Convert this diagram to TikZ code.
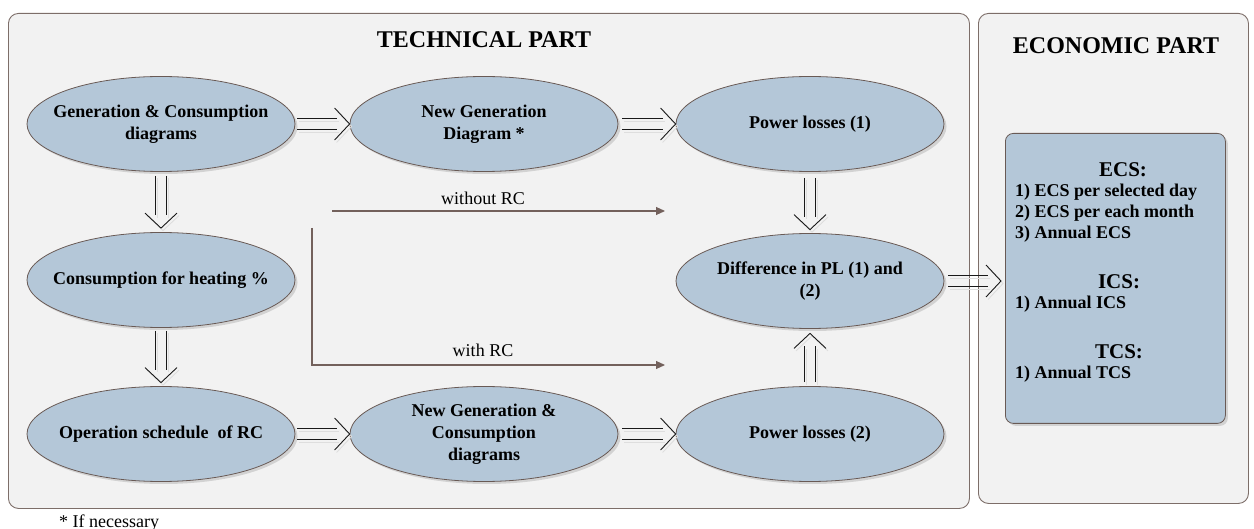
\documentclass[tikz,border=0pt]{standalone}
\usepackage{fontspec}
\setmainfont{Liberation Serif}
\usetikzlibrary{shapes.geometric,arrows.meta,shadows}
\definecolor{panelbg}{RGB}{242,242,242}
\definecolor{frame}{RGB}{125,110,105}
\definecolor{ellfill}{RGB}{180,199,216}
\definecolor{ellline}{RGB}{105,90,85}
\definecolor{thinc}{RGB}{115,97,92}
\definecolor{darkc}{RGB}{25,25,25}
\definecolor{shadc}{RGB}{222,222,222}
% #1 from, #2 tip, #3 start gap, #4 rotation of tip, #5/#6 half offset of the two lines
\newcommand\dblarrow[6]{%
  \draw[shline, transform canvas={shift={(#5+2pt,#6-2.5pt)}}, shorten <=#3, shorten >=13pt] (#1) -- (#2);
  \draw[shline, transform canvas={shift={(-#5+2pt,-#6-2.5pt)}}, shorten <=#3, shorten >=13pt] (#1) -- (#2);
  \draw[dline, transform canvas={shift={(#5,#6)}}, shorten <=#3, shorten >=13pt] (#1) -- (#2);
  \draw[dline, transform canvas={shift={(-#5,-#6)}}, shorten <=#3, shorten >=13pt] (#1) -- (#2);
  \draw[shline, shift={(#2)}, xshift=2pt, yshift=-2.5pt, rotate=#4] (-15pt,16pt) -- (0pt,0pt) -- (-15pt,-16pt);
  \draw[dline, shift={(#2)}, rotate=#4] (-15pt,16pt) -- (0pt,0pt) -- (-15pt,-16pt);
}
\begin{document}
\begin{tikzpicture}[x=1pt,y=-1pt,
  panel/.style={rectangle, draw=frame, fill=panelbg, line width=0.9pt, rounded corners=10pt, anchor=north west, inner sep=0pt},
  ell/.style={ellipse, draw=ellline, line width=0.8pt, fill=ellfill, minimum width=268pt, minimum height=95pt, inner ysep=0pt, inner xsep=-20pt, align=center, font=\fontsize{18}{22}\selectfont\bfseries, drop shadow={shadow xshift=2.5pt, shadow yshift=-2.5pt, fill=black, opacity=0.13}},
  dline/.style={draw=darkc, line width=0.9pt},
  shline/.style={draw=shadc, line width=0.9pt},
  thinarr/.style={draw=thinc, line width=1.1pt, -{Triangle[length=9pt,width=8pt]}},
  lbl/.style={font=\fontsize{18}{22}\selectfont},
  title/.style={font=\fontsize{24}{28}\selectfont\bfseries, anchor=base},
  econtxt/.style={font=\fontsize{18}{22}\selectfont\bfseries, anchor=mid west, inner sep=0pt},
  econhead/.style={font=\fontsize{21}{25}\selectfont\bfseries, inner sep=0pt}
]
\useasboundingbox (0,0) rectangle (1254,529);
% panels
\node[panel, minimum width=961pt, minimum height=495pt] (tech) at (8,13) {};
\node[panel, minimum width=270pt, minimum height=490pt] (econ) at (978,13) {};
\node[title] (techtitle) at (484,48) {TECHNICAL PART};
\node[title] (econtitle) at (1116,54) {ECONOMIC PART};
% ellipses
\node[ell] (gen) at (161,124) {Generation \& Consumption\\diagrams};
\node[ell] (newgen) at (484,124) {New Generation\\Diagram *};
\node[ell] (pl1) at (810,124) {Power losses (1)};
\node[ell] (heat) at (161,280) {Consumption for heating \%};
\node[ell] (diff) at (810,281) {Difference in PL (1) and\\(2)};
\node[ell] (oper) at (161,434) {Operation schedule\ \ of RC};
\node[ell] (newgc) at (484,434) {New Generation \&\\Consumption\\diagrams};
\node[ell] (pl2) at (810,434) {Power losses (2)};
% economic box
\node[rectangle, draw=ellline, line width=0.8pt, fill=ellfill, rounded corners=8pt, minimum width=220pt, minimum height=290pt, anchor=north west, inner sep=0pt, drop shadow={shadow xshift=2.5pt, shadow yshift=-2.5pt, fill=black, opacity=0.13}] (econbox) at (1005,133) {};
\node[econhead] (ecsh) at (1123,170) {ECS:};
\node[econtxt] (ecs1) at (1015,194) {1) ECS per selected day};
\node[econtxt] (ecs2) at (1015,215) {2) ECS per each month};
\node[econtxt] (ecs3) at (1015,236) {3) Annual ECS};
\node[econhead] (icsh) at (1119,282) {ICS:};
\node[econtxt] (ics1) at (1015,306) {1) Annual ICS};
\node[econhead] (tcsh) at (1119,352) {TCS:};
\node[econtxt] (tcs1) at (1015,376) {1) Annual TCS};
% double arrows (horizontal)
\dblarrow{gen.east}{newgen.west}{2pt}{0}{0pt}{5.5pt}
\dblarrow{newgen.east}{pl1.west}{4pt}{0}{0pt}{5.5pt}
\dblarrow{oper.east}{newgc.west}{2pt}{0}{0pt}{5.5pt}
\dblarrow{newgc.east}{pl2.west}{4pt}{0}{0pt}{5.5pt}
% double arrows (vertical)
\coordinate (t5) at ([yshift=4pt]heat.north);
\dblarrow{gen.south}{t5}{4pt}{-90}{5.5pt}{0pt}
\coordinate (t6) at ([yshift=3.5pt]oper.north);
\dblarrow{heat.south}{t6}{3pt}{-90}{5.5pt}{0pt}
\coordinate (t4a) at ([yshift=3.5pt]diff.north);
\dblarrow{pl1.south}{t4a}{6pt}{-90}{5.5pt}{0pt}
\coordinate (t4b) at ([yshift=-4.5pt]diff.south);
\dblarrow{pl2.north}{t4b}{4pt}{90}{5.5pt}{0pt}
% to economic box
\coordinate (te) at ([xshift=-4pt]econbox.west |- diff.east);
\dblarrow{diff.east}{te}{4pt}{0}{0pt}{5.5pt}
% thin arrows
\coordinate (wo1) at (332,211);
\coordinate (wo2) at (665,211);
\draw[thinarr] (wo1) -- (wo2);
\node[lbl] (lwo) at (483,198) {without RC};
\coordinate (w0) at (312,228);
\coordinate (w1) at (312,365);
\coordinate (w2) at (665,365);
\draw[thinarr] (w0) -- (w1) -- (w2);
\node[lbl] (lw) at (483,350) {with RC};
% footnote
\node[lbl, anchor=base west, inner sep=0pt] (fn) at (59,527) {* If necessary};
\end{tikzpicture}
\end{document}
